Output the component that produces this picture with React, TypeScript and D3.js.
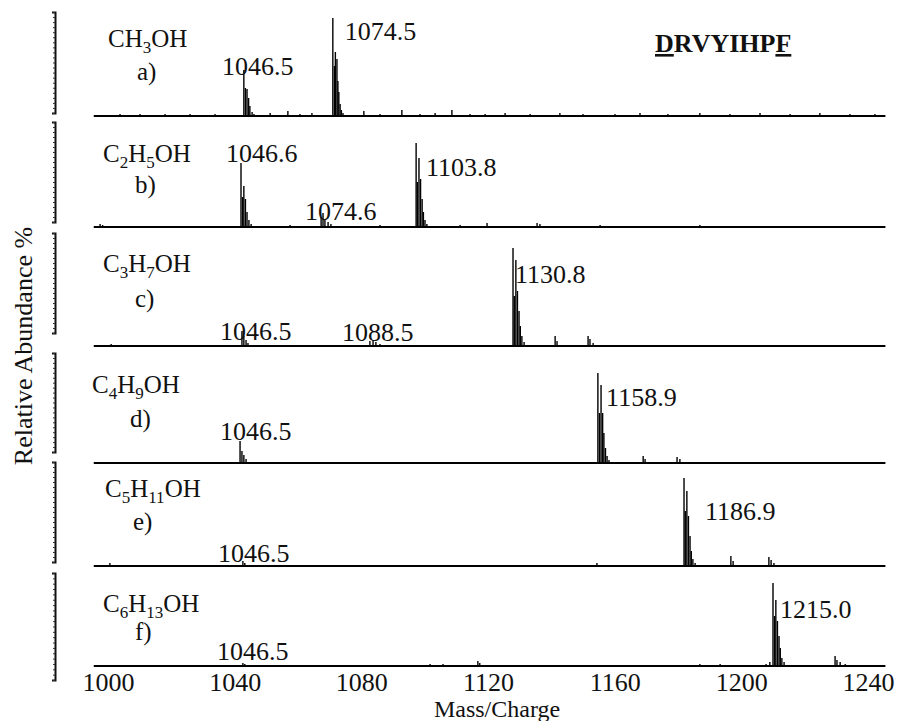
import { useEffect, useRef } from 'react';
import * as d3 from 'd3';

type Peak = [number, number]; // [m/z, relative abundance %]
interface PeakLabel { text: string; mz: number; rel: number }

const WIDTH = 898;
const HEIGHT = 721;

const X_TICKS = [1000, 1040, 1080, 1120, 1160, 1200, 1240];
const SCAN_RANGE: [number, number] = [995.5, 1245.5];

const FORMULAS = ['CH{3}OH', 'C{2}H{5}OH', 'C{3}H{7}OH', 'C{4}H{9}OH', 'C{5}H{11}OH', 'C{6}H{13}OH'];
const LETTERS = ['a)', 'b)', 'c)', 'd)', 'e)', 'f)'];

const PEAKS_A: Peak[] = [
  [1003.8, 2], [1010.1, 2], [1014.0, 1], [1018.0, 2], [1022.0, 1], [1025.9, 2], [1030.0, 1], [1033.8, 2],
  [1042.9, 46], [1043.4, 28], [1043.9, 27], [1044.4, 18], [1044.8, 10], [1045.5, 4], [1046.1, 2],
  [1051.2, 3], [1056.8, 5], [1060.6, 2], [1064.4, 3],
  [1071.0, 98], [1071.5, 50], [1071.8, 64], [1072.3, 57], [1072.6, 35], [1072.9, 24], [1073.3, 12], [1073.7, 6], [1074.2, 3],
  [1080.8, 5], [1085.9, 2], [1092.8, 6], [1098.5, 2], [1103.3, 3], [1108.6, 6], [1114.3, 2], [1119.1, 2],
  [1125.4, 3], [1133.3, 2], [1142.7, 3], [1150.0, 2], [1160.1, 2], [1168.0, 3], [1176.8, 2], [1186.9, 3],
  [1196.4, 2], [1205.9, 3], [1215.4, 2], [1224.8, 3], [1234.3, 2], [1242.2, 2],
];

const PEAKS_B: Peak[] = [
  [997.5, 3], [998.3, 2],
  [1042.0, 64], [1042.5, 30], [1042.9, 41], [1043.4, 28], [1043.9, 15], [1044.5, 7], [1045.2, 3],
  [1057.5, 2], [1067.3, 10], [1067.9, 14], [1068.5, 8], [1069.5, 5], [1070.4, 3], [1085.9, 2],
  [1097.3, 84], [1097.7, 45], [1098.2, 69], [1098.7, 48], [1099.2, 28], [1099.6, 15], [1100.1, 7], [1100.7, 3],
  [1111.2, 2], [1119.7, 4], [1135.5, 4], [1136.4, 3], [1155.4, 2], [1186.9, 2],
];

const PEAKS_C: Peak[] = [
  [1001.0, 2], [1042.3, 15], [1042.9, 10], [1043.6, 6], [1044.2, 3],
  [1082.7, 5], [1083.7, 6], [1084.6, 4], [1085.9, 2],
  [1127.9, 98], [1128.3, 50], [1128.8, 86], [1129.3, 55], [1129.8, 35], [1130.2, 20], [1130.7, 10], [1131.4, 4],
  [1141.2, 10], [1141.8, 5], [1151.6, 10], [1152.2, 7], [1153.2, 3],
];

const PEAKS_D: Peak[] = [
  [1041.7, 22], [1042.3, 12], [1042.9, 8], [1043.6, 4],
  [1154.7, 90], [1155.2, 50], [1155.7, 78], [1156.2, 50], [1156.6, 30], [1157.1, 15], [1157.6, 7], [1158.2, 3],
  [1169.0, 7], [1169.6, 4], [1179.7, 6], [1180.6, 4],
];

const PEAKS_E: Peak[] = [
  [1000.6, 3], [1042.6, 5], [1043.2, 3], [1154.4, 3],
  [1181.9, 88], [1182.3, 55], [1182.8, 75], [1183.3, 50], [1183.8, 30], [1184.2, 15], [1184.7, 7], [1185.4, 3],
  [1196.7, 10], [1197.4, 5], [1208.7, 9], [1209.4, 6], [1210.3, 3],
];

const PEAKS_F: Peak[] = [
  [1042.6, 3], [1043.2, 2], [1101.7, 2], [1105.8, 2], [1116.8, 5], [1117.4, 3], [1186.9, 2], [1193.3, 2],
  [1207.8, 2], [1209.0, 4],
  [1210.0, 83], [1210.5, 50], [1210.9, 66], [1211.4, 45], [1211.9, 30], [1212.3, 18], [1212.8, 8], [1213.5, 4],
  [1229.6, 10], [1230.2, 6], [1231.2, 4], [1232.8, 2],
];

const LABELS_A: PeakLabel[] = [{ text: '1046.5', mz: 1036.0, rel: 41 }, { text: '1074.5', mz: 1074.8, rel: 76 }];
const LABELS_B: PeakLabel[] = [
  { text: '1046.6', mz: 1037.3, rel: 65 }, { text: '1074.6', mz: 1062.2, rel: 7 }, { text: '1103.8', mz: 1100.4, rel: 51 },
];
const LABELS_C: PeakLabel[] = [
  { text: '1046.5', mz: 1035.4, rel: 6 }, { text: '1088.5', mz: 1073.9, rel: 5 }, { text: '1130.8', mz: 1128.5, rel: 63 },
];
const LABELS_D: PeakLabel[] = [{ text: '1046.5', mz: 1035.4, rel: 23 }, { text: '1158.9', mz: 1157.3, rel: 57 }];
const LABELS_E: PeakLabel[] = [{ text: '1046.5', mz: 1034.7, rel: 4 }, { text: '1186.9', mz: 1188.5, rel: 46 }];
const LABELS_F: PeakLabel[] = [{ text: '1046.5', mz: 1034.4, rel: 6 }, { text: '1215.0', mz: 1212.2, rel: 48 }];

const PEAKS = [PEAKS_A, PEAKS_B, PEAKS_C, PEAKS_D, PEAKS_E, PEAKS_F];
const LABELS = [LABELS_A, LABELS_B, LABELS_C, LABELS_D, LABELS_E, LABELS_F];

// layout (pixels)
const PANEL_BASE = [116, 227, 346, 463, 566, 666];
const PANEL_H = 100;
const AXIS_SEGMENTS = [[12, 113], [122, 222], [233, 333], [353, 452], [462, 562], [573, 680]];
const FORMULA_POS = [[108, 47], [103, 162], [103, 272], [92, 393], [105, 497], [103, 612]];
const LETTER_POS = [[137, 80], [135, 193], [135, 307], [130, 427], [133, 530], [135, 640]];

const FONT = 'Liberation Serif, Times New Roman, serif';

export default function App() {
  const svgRef = useRef<SVGSVGElement>(null);

  useEffect(() => {
    if (!svgRef.current) return;
    const svg = d3.select(svgRef.current);
    svg.selectAll('*').remove();

    const x = d3.scaleLinear().domain([1000, 1240]).range([108, 868]);

    svg.append('rect').attr('width', WIDTH).attr('height', HEIGHT).attr('fill', '#fff');

    PEAKS.forEach((peaks, i) => {
      const base = PANEL_BASE[i];
      const y = d3.scaleLinear().domain([0, 100]).range([base, base - PANEL_H]);
      const g = svg.append('g');

      // left intensity axis segment
      const [top, bottom] = AXIS_SEGMENTS[i];
      const ySeg = d3.scaleLinear().domain([0, 100]).range([bottom, top]);
      const axis = svg
        .append('g')
        .attr('transform', 'translate(55,0)')
        .call(d3.axisLeft(ySeg).ticks(20).tickSize(2).tickSizeOuter(3).tickFormat(() => ''));
      axis.select('.domain').attr('stroke', '#111').attr('stroke-width', 2);
      axis.selectAll('.tick line').attr('stroke', '#333');

      // baseline
      g.append('line')
        .attr('x1', x(SCAN_RANGE[0]))
        .attr('x2', x(SCAN_RANGE[1]))
        .attr('y1', base)
        .attr('y2', base)
        .attr('stroke', '#000')
        .attr('stroke-width', 2);

      // peaks
      g.selectAll('line.peak')
        .data(peaks)
        .join('line')
        .attr('class', 'peak')
        .attr('x1', (d) => x(d[0]))
        .attr('x2', (d) => x(d[0]))
        .attr('y1', base)
        .attr('y2', (d) => y(d[1]))
        .attr('stroke', '#000')
        .attr('stroke-width', 1.4);

      // peak labels
      g.selectAll('text.lbl')
        .data(LABELS[i])
        .join('text')
        .attr('class', 'lbl')
        .attr('x', (d) => x(d.mz))
        .attr('y', (d) => y(d.rel))
        .attr('font-size', 26)
        .attr('font-family', FONT)
        .attr('fill', '#111')
        .text((d) => d.text);

      // formula with subscripts
      const ft = g
        .append('text')
        .attr('x', FORMULA_POS[i][0])
        .attr('y', FORMULA_POS[i][1])
        .attr('font-size', 25)
        .attr('font-family', FONT)
        .attr('fill', '#111');
      const parts = FORMULAS[i].split(/(\{\d+\})/).filter((p) => p.length);
      let shifted = false;
      parts.forEach((p) => {
        if (p.startsWith('{')) {
          ft.append('tspan').attr('dy', 6).attr('font-size', 17).text(p.slice(1, -1));
          shifted = true;
        } else {
          ft.append('tspan').attr('dy', shifted ? -6 : 0).text(p);
          shifted = false;
        }
      });

      g.append('text')
        .attr('x', LETTER_POS[i][0])
        .attr('y', LETTER_POS[i][1])
        .attr('font-size', 25)
        .attr('font-family', FONT)
        .attr('fill', '#111')
        .text(LETTERS[i]);
    });

    // x axis labels under the last panel
    const xAxis = svg
      .append('g')
      .attr('transform', `translate(0,${PANEL_BASE[PANEL_BASE.length - 1]})`)
      .call(d3.axisBottom(x).tickValues(X_TICKS).tickSize(0).tickPadding(7).tickFormat(d3.format('d')));
    xAxis.select('.domain').remove();
    xAxis
      .selectAll('text')
      .attr('font-size', 26)
      .attr('font-family', FONT)
      .attr('fill', '#111')
      .attr('dy', '0.71em');

    svg.append('text')
      .attr('x', 497)
      .attr('y', 717)
      .attr('text-anchor', 'middle')
      .attr('font-size', 24)
      .attr('font-family', FONT)
      .attr('fill', '#111')
      .text('Mass/Charge');

    svg.append('text')
      .attr('transform', 'translate(32,346) rotate(-90)')
      .attr('text-anchor', 'middle')
      .attr('font-size', 26)
      .attr('font-family', FONT)
      .attr('fill', '#111')
      .text('Relative Abundance %');

    // peptide sequence, first and last residues underlined
    const seq = svg
      .append('text')
      .attr('x', 655)
      .attr('y', 52)
      .attr('font-size', 26)
      .attr('font-weight', 'bold')
      .attr('font-family', FONT)
      .attr('fill', '#111');
    seq.append('tspan').attr('text-decoration', 'underline').text('D');
    seq.append('tspan').text('RVYIHP');
    seq.append('tspan').attr('text-decoration', 'underline').text('F');
  }, []);

  return (
    <svg
      ref={svgRef}
      width={WIDTH}
      height={HEIGHT}
      style={{ position: 'absolute', left: 0, top: 0, fontFamily: FONT }}
    />
  );
}
